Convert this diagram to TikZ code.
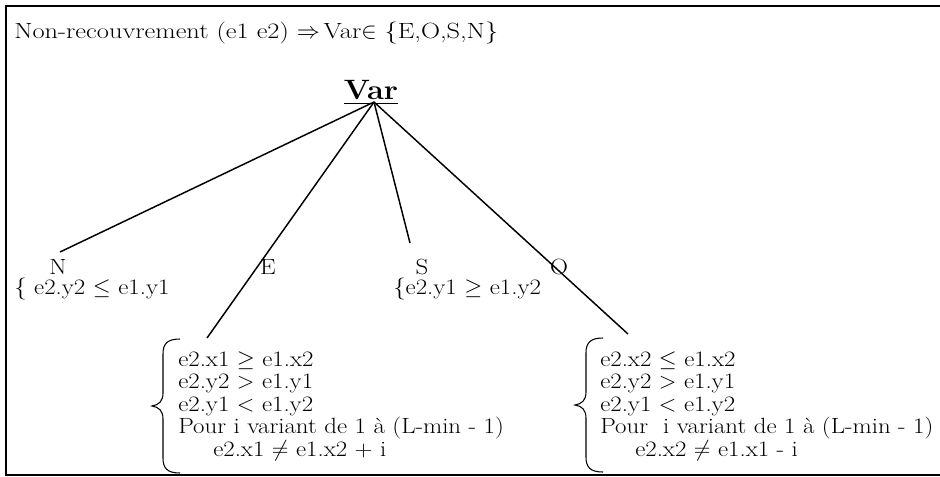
\documentclass[tikz,border=0pt]{standalone}
\usepackage{amssymb}
\usepackage{fontspec}
\setmainfont{Latin Modern Roman}[FakeStretch=1.13]
\newfontfamily\varfont{Latin Modern Roman}[FakeStretch=1.1]
\newfontfamily\titlefont{Latin Modern Roman}[FakeStretch=1.2]
\tikzset{
  txt/.style={anchor=base west, inner sep=0pt, font=\fontsize{16.5}{18}\selectfont},
  lab/.style={anchor=base, inner sep=0pt, font=\fontsize{16.5}{18}\selectfont},
  conn/.style={line width=1.1pt},
  frame/.style={line width=1.8pt},
  bracepic/.pic={
    \draw[line width=0.8pt] (0,0) .. controls (-13,0) and (-17,5) .. (-17,15) -- (-17,54)
      .. controls (-17,62) and (-21,66) .. (-28,67)
      .. controls (-21,68) and (-17,72) .. (-17,80) -- (-17,119)
      .. controls (-17,129) and (-13,134) .. (0,134);
  }
}
\begin{document}
\begin{tikzpicture}[x=0.75pt,y=-0.75pt]
\useasboundingbox (0,0) rectangle (940,476);
\draw[frame] (946,6) -- (6,6) -- (6,475) -- (946,475);
% title
\node[txt, font=\titlefont\fontsize{16.5}{18}\selectfont] (title) at (14,38) {Non-recouvrement (e1 e2) $\Rightarrow$\,Var$\in$\ \{E,O,S,N\}};
% root
\node[anchor=base, inner sep=0pt, font=\varfont\fontsize{21}{23}\selectfont\bfseries] (var) at (371,99) {\underline{Var}};
\coordinate (root) at (374,102);
% labels
\node[lab] (N) at (58,274) {N};
\node[lab] (E) at (268,274) {E};
\node[lab] (S) at (422,274) {S};
\node[lab] (O) at (559,274) {O};
\node[txt] (ncond) at (14,294) {\{ e2.y2 $\leq$ e1.y1};
\node[txt] (scond) at (393,294) {\{e2.y1 $\geq$ e1.y2};
% E block
\node[txt] (e1) at (178,366) {e2.x1 $\geq$ e1.x2};
\node[txt] (e2) at (178,388.5) {e2.y2 $>$ e1.y1};
\node[txt] (e3) at (178,411) {e2.y1 $<$ e1.y2};
\node[txt] (e4) at (178,433.5) {Pour i variant de 1 à (L-min - 1)};
\node[txt] (e5) at (213,456) {e2.x1 $\neq$ e1.x2 + i};
\pic at (180,339) {bracepic};
% O block
\node[txt] (o1) at (600,366) {e2.x2 $\leq$ e1.x2};
\node[txt] (o2) at (600,388.5) {e2.y2 $>$ e1.y1};
\node[txt] (o3) at (600,411) {e2.y1 $<$ e1.y2};
\node[txt] (o4) at (600,433.5) {Pour\ \ i variant de 1 à (L-min - 1)};
\node[txt] (o5) at (635,456) {e2.x2 $\neq$ e1.x1 - i};
\pic at (603,338) {bracepic};
% connector ends
\coordinate (nend) at (60,252);
\coordinate (eend) at (207,338);
\coordinate (send) at (410,243);
\coordinate (oend) at (628,334);
\draw[conn] (root) -- (nend);
\draw[conn] (root) -- (eend);
\draw[conn] (root) -- (send);
\draw[conn] (root) -- (oend);
\end{tikzpicture}
\end{document}
